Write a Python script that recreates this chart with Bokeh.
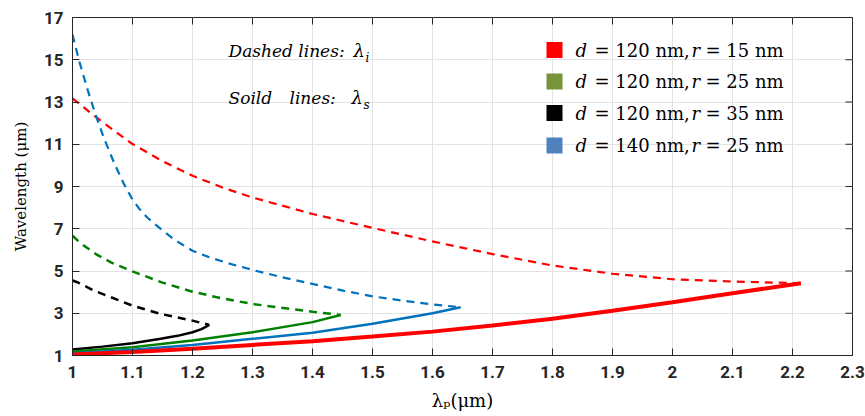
from bokeh.plotting import figure
from bokeh.models import FixedTicker, Label, Range1d
from bokeh.embed import file_html
from bokeh.resources import INLINE

# ---------------- data ----------------
# d = 120 nm, r = 15 nm (red)
red_idler_x = [1.0, 1.036, 1.05, 1.1, 1.15, 1.2, 1.25, 1.3, 1.4, 1.5, 1.6, 1.7, 1.8, 1.9, 2.0, 2.1, 2.214]
red_idler_y = [13.17, 12.35, 12.05, 11.01, 10.2, 9.51, 8.95, 8.48, 7.7, 7.04, 6.4, 5.8, 5.26, 4.87, 4.61, 4.5, 4.42]
red_signal_x = [1.0, 1.1, 1.2, 1.3, 1.4, 1.5, 1.6, 1.7, 1.8, 1.9, 2.0, 2.1, 2.214]
red_signal_y = [1.05, 1.16, 1.32, 1.5, 1.68, 1.9, 2.13, 2.42, 2.74, 3.12, 3.52, 3.95, 4.42]

# d = 120 nm, r = 25 nm (green)
green_idler_x = [1.0, 1.014, 1.039, 1.064, 1.1, 1.15, 1.2, 1.25, 1.3, 1.4, 1.447]
green_idler_y = [6.67, 6.3, 5.8, 5.41, 4.98, 4.45, 4.02, 3.7, 3.44, 3.07, 2.92]
green_signal_x = [1.0, 1.1, 1.2, 1.3, 1.4, 1.447]
green_signal_y = [1.19, 1.39, 1.71, 2.1, 2.58, 2.92]

# d = 120 nm, r = 35 nm (black)
black_idler_x = [1.0, 1.008, 1.036, 1.064, 1.1, 1.147, 1.2, 1.228]
black_idler_y = [4.55, 4.47, 4.07, 3.76, 3.36, 2.97, 2.65, 2.45]
black_signal_x = [1.0, 1.05, 1.1, 1.147, 1.175, 1.2, 1.215, 1.228]
black_signal_y = [1.28, 1.42, 1.58, 1.79, 1.93, 2.1, 2.25, 2.45]

# d = 140 nm, r = 25 nm (blue)
blue_idler_x = [1.0, 1.011, 1.025, 1.039, 1.053, 1.069, 1.086, 1.1, 1.112, 1.125, 1.147, 1.172,
                1.2, 1.228, 1.258, 1.3, 1.347, 1.4, 1.453, 1.5, 1.55, 1.6, 1.647]
blue_idler_y = [16.2, 14.95, 13.6, 12.35, 11.25, 10.14, 9.1, 8.38, 7.92, 7.52, 6.99, 6.44,
                5.96, 5.65, 5.38, 5.05, 4.72, 4.39, 4.06, 3.8, 3.6, 3.42, 3.28]
blue_signal_x = [1.0, 1.1, 1.2, 1.3, 1.4, 1.5, 1.6, 1.647]
blue_signal_y = [1.11, 1.27, 1.5, 1.79, 2.08, 2.5, 3.0, 3.28]

legend_d = ["120", "120", "120", "140"]
legend_r = ["15", "25", "35", "25"]
legend_colors = ["#ff0000", "#77933c", "#000000", "#4f81bd"]

xticks = [1, 1.1, 1.2, 1.3, 1.4, 1.5, 1.6, 1.7, 1.8, 1.9, 2, 2.1, 2.2, 2.3]
xtick_labels = ["1", "1.1", "1.2", "1.3", "1.4", "1.5", "1.6", "1.7", "1.8", "1.9",
                "2", "2.1", "2.2", "2.3"]
yticks = [1, 3, 5, 7, 9, 11, 13, 15, 17]

y_title = "Wavelength (μm)"
x_title = "λₚ(μm)"

# ---------------- layout ----------------
W, H = 865, 416
BL, BR, BT, BB = 72, 13, 17, 61
FW, FH = W - BL - BR, H - BT - BB
X0, X1, Y0, Y1 = 1.0, 2.3, 1.0, 17.0
TICK = 7


def px2x(px):
    return X0 + (px - BL) * (X1 - X0) / FW


def py2y(py):
    return Y0 + (BT + FH - py) * (Y1 - Y0) / FH


p = figure(width=W, height=H, output_backend="svg", toolbar_location=None,
           x_range=Range1d(X0, X1), y_range=Range1d(Y0, Y1),
           min_border_left=BL, min_border_right=BR, min_border_top=BT,
           min_border_bottom=BB)
p.background_fill_color = "white"
p.border_fill_color = "white"
axcol = "#262626"
p.outline_line_color = axcol
p.outline_line_width = 1

p.xaxis.ticker = FixedTicker(ticks=xticks)
p.xaxis.major_label_overrides = {t: l for t, l in zip(xticks, xtick_labels)}
p.yaxis.ticker = FixedTicker(ticks=yticks)

for ax in [p.xaxis[0], p.yaxis[0]]:
    ax.major_tick_in = TICK
    ax.major_tick_out = 0
    ax.minor_tick_line_color = None
    ax.axis_line_color = axcol
    ax.major_tick_line_color = axcol
    ax.major_label_text_font = "Roboto"
    ax.major_label_text_font_style = "bold"
    ax.major_label_text_font_size = "17px"
    ax.major_label_text_color = axcol
    ax.axis_label_text_font = "DejaVu Serif"
    ax.axis_label_text_font_style = "normal"
    ax.axis_label_text_color = "#000000"

p.xaxis.major_label_standoff = 10
p.yaxis.major_label_standoff = 9
p.xaxis.axis_label = x_title
p.xaxis.axis_label_text_font_size = "18px"
p.xaxis.axis_label_standoff = 9
p.yaxis.axis_label = y_title
p.yaxis.axis_label_text_font_size = "15px"
p.yaxis.axis_label_standoff = 11

# inward ticks on the top and right frame edges
dx = TICK * (X1 - X0) / FW
dy = TICK * (Y1 - Y0) / FH
p.segment(x0=xticks, y0=[Y1] * len(xticks), x1=xticks, y1=[Y1 - dy] * len(xticks),
          line_color=axcol, line_width=1)
p.segment(x0=[X1] * len(yticks), y0=yticks, x1=[X1 - dx] * len(yticks), y1=yticks,
          line_color=axcol, line_width=1)

p.xgrid.ticker = FixedTicker(ticks=xticks)
p.ygrid.ticker = FixedTicker(ticks=yticks)
p.grid.grid_line_color = "#e3e3e3"
p.grid.grid_line_width = 1

# ---------------- curves ----------------
dash = "8 6"
p.line(red_idler_x, red_idler_y, color="#ff0000", line_width=2.2, line_dash=dash)
p.line(green_idler_x, green_idler_y, color="#008000", line_width=2.5, line_dash=dash)
p.line(black_idler_x, black_idler_y, color="#000000", line_width=2.5, line_dash=dash)
p.line(blue_idler_x, blue_idler_y, color="#0072bd", line_width=2.2, line_dash=dash)

p.line(black_signal_x, black_signal_y, color="#000000", line_width=2.5)
p.line(green_signal_x, green_signal_y, color="#008000", line_width=2.5)
p.line(blue_signal_x, blue_signal_y, color="#0072bd", line_width=2.5)
p.line(red_signal_x, red_signal_y, color="#ff0000", line_width=4)

# ---------------- legend (custom) ----------------
row_py = [49.5, 81, 112.5, 145]
p.scatter([px2x(554)] * 4, [py2y(v) for v in row_py], marker="square", size=16,
          color=legend_colors, line_color=None)

lfont = "DejaVu Serif"
lsize = "18px"
for i, py in enumerate(row_py):
    y = py2y(py)
    pieces = [
        (575, "d", "italic"),
        (594, "= " + legend_d[i] + " nm,", "normal"),
        (691, "r", "italic"),
        (705, "= " + legend_r[i] + " nm", "normal"),
    ]
    for px, txt, style in pieces:
        p.add_layout(Label(x=px2x(px), y=y, text=txt, text_font=lfont,
                           text_font_style=style, text_font_size=lsize,
                           text_baseline="middle", text_color="#000000"))

# ---------------- annotations ----------------
notes = [
    (50, [(228, "Dashed lines:")], 353, "i"),
    (97, [(228, "Soild"), (289, "lines:")], 351, "s"),
]
for py, words, lam_px, sub in notes:
    for px, word in words:
        p.add_layout(Label(x=px2x(px), y=py2y(py), text=word, text_font="DejaVu Serif",
                           text_font_style="italic", text_font_size="17px",
                           text_baseline="middle", text_color="#000000"))
    p.add_layout(Label(x=px2x(lam_px), y=py2y(py), text="λ", text_font="DejaVu Serif",
                       text_font_style="italic", text_font_size="18px",
                       text_baseline="middle", text_color="#000000"))
    p.add_layout(Label(x=px2x(lam_px + 12), y=py2y(py + 7), text=sub,
                       text_font="DejaVu Serif", text_font_style="italic",
                       text_font_size="12px", text_baseline="middle",
                       text_color="#000000"))

open("out.html", "w").write(file_html(p, INLINE))
